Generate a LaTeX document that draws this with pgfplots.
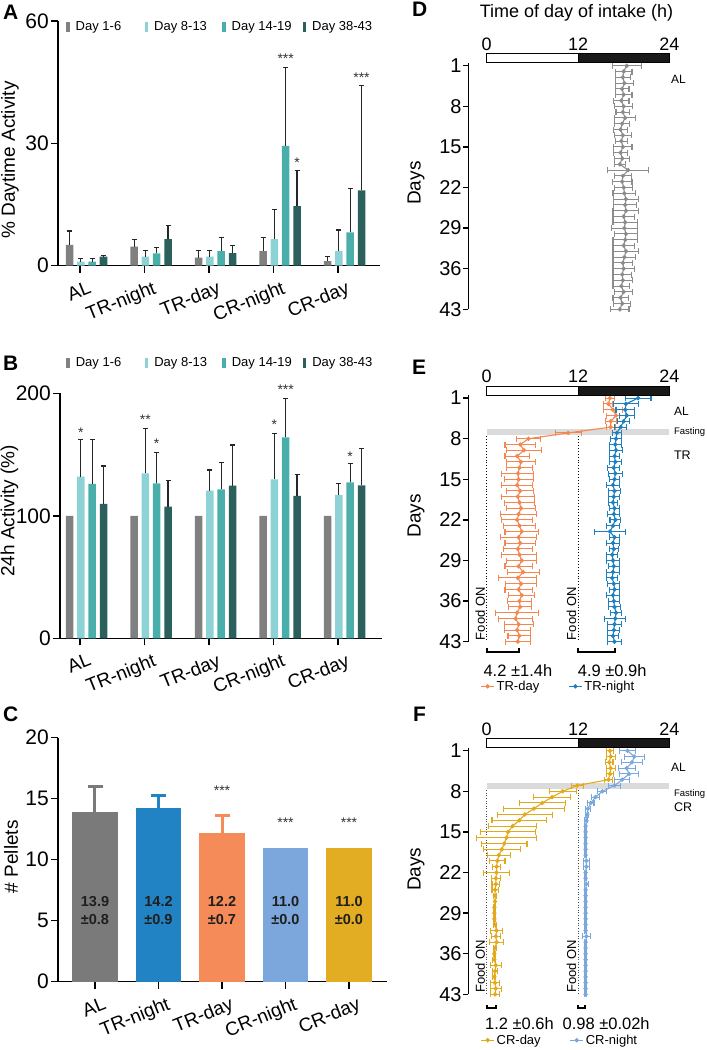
\documentclass[border=0pt]{standalone}
\usepackage{pgfplots}
\pgfplotsset{compat=1.18}
\usepackage{pgfplotstable}
\usepackage{fontspec}
\setmainfont{Liberation Sans}
\newcommand{\fsz}[1]{\fontsize{#1}{#1}\selectfont}

\definecolor{cGray}{HTML}{808080}
\definecolor{cLight}{HTML}{8DD3D6}
\definecolor{cTeal}{HTML}{4AAFAB}
\definecolor{cDark}{HTML}{2B605C}
\definecolor{cAL}{HTML}{7A7A7A}
\definecolor{cTRn}{HTML}{2183C4}
\definecolor{cTRd}{HTML}{F58B59}
\definecolor{cCRn}{HTML}{7BA7DC}
\definecolor{cCRd}{HTML}{E3AD23}
\definecolor{cDgray}{HTML}{8C8C8C}
\definecolor{cEor}{HTML}{F4874F}
\definecolor{cEbl}{HTML}{1F80C1}
\definecolor{cFgo}{HTML}{E3A91C}
\definecolor{cFbl}{HTML}{7AA8DC}

\pgfplotsset{
 barax/.style={anchor=south west, scale only axis, axis lines=left,
   axis line style={-, line width=1.5pt}, tick align=outside, major tick length=7pt,
   tick style={line width=1.5pt, black},
   xtick={80,144.5,209,273.5,338}, xticklabels={AL,TR-night,TR-day,CR-night,CR-day},
   xticklabel style={xshift=8pt, yshift=-6pt, rotate=22, anchor=north east, font=\fsz{19}, inner sep=1pt},
   yticklabel style={font=\fsz{21}, inner sep=2pt},
   /pgf/number format/assume math mode=true,
   ylabel style={font=\fsz{19}, anchor=center}, clip=false,
   legend columns=4,
   legend image code/.code={\fill[#1] (0pt,-5pt) rectangle (3.5pt,5pt);},
 },
 daylegend/.style={legend style={at={(axis description cs:#1)}, anchor=west, draw=none, fill=none,
    font=\fsz{13}, inner sep=0pt, /tikz/every odd column/.append style={column sep=4pt}}},
 mybar/.style={ybar, bar width=7.5, bar shift=0pt, draw=none, fill=#1, forget plot},
 ebar/.style={error bars/.cd, y dir=plus, y explicit,
   error bar style={line width=1.1pt, color=black!85},
   error mark options={rotate=90, line width=1.1pt, mark size=2.5pt, color=black!85}},
 dayax/.style={anchor=south west, scale only axis, width=201pt, height=246.5pt,
   xmin=-2.42, xmax=24, ymin=0.5, ymax=43, y dir=reverse,
   axis y line=left, axis x line=none, axis line style={-, line width=1.5pt},
   ytick={1,8,15,22,29,36,43}, tick align=outside, major tick length=5pt,
   tick style={line width=1.5pt, black},
   yticklabel style={font=\fsz{20}, inner sep=1.5pt},
   /pgf/number format/assume math mode=true,
   ylabel={Days}, ylabel style={font=\fsz{19}, anchor=center}, clip=false,
   legend columns=2,
   legend image code/.code={\draw[mark repeat=2,mark phase=2,#1] plot coordinates {(0pt,0pt) (6.5pt,0pt) (13pt,0pt)};},
 },
 ser/.style={color=#1, line width=1.1pt, mark=*, mark size=1.6pt, mark options={solid},
   error bars/.cd, x dir=both, x explicit,
   error bar style={line width=1.1pt},
   error mark options={rotate=90, line width=1.1pt, mark size=3pt}},
}
\tikzset{stx/.style={font=\fsz{14}, anchor=base, text=black!80, inner sep=0pt},
  inl/.style={align=center, font=\bfseries\fsz{14.5}, text=black!88, inner sep=0pt}}

\newcommand{\topbar}{%
 \draw[line width=1pt, fill=white] (axis cs:0,-1.05) rectangle (axis cs:12,0.5);
 \draw[line width=1pt, fill=black!90] (axis cs:12,-1.05) rectangle (axis cs:24,0.5);
 \node[anchor=base, font=\fsz{18}, inner sep=0pt] at (axis cs:0,-1.65) {0};
 \node[anchor=base, font=\fsz{18}, inner sep=0pt] at (axis cs:12,-1.65) {12};
 \node[anchor=base, font=\fsz{18}, inner sep=0pt] at (axis cs:24,-1.65) {24};
}

\pgfplotstableread{
d t e
1 18.4 1.9
2 18.0 1.1
3 17.9 1.0
4 18.1 1.2
5 17.8 0.9
6 18.0 1.1
7 17.7 1.0
8 18.0 1.2
9 17.9 0.9
10 18.2 1.4
11 17.8 1.0
12 17.6 0.9
13 17.9 1.1
14 17.7 0.8
15 17.9 1.2
16 17.6 0.9
17 17.8 1.0
18 17.5 0.7
19 18.6 2.7
20 17.9 1.1
21 17.8 1.3
22 18.0 1.2
23 18.1 1.5
24 18.3 1.6
25 18.2 1.5
26 18.3 1.7
27 18.0 1.4
28 18.2 1.6
29 18.1 1.7
30 18.3 1.5
31 18.2 1.6
32 18.0 1.4
33 18.3 1.7
34 18.1 1.5
35 17.9 1.3
36 18.0 1.4
37 17.8 1.2
38 17.9 1.3
39 17.7 1.1
40 18.0 1.2
41 17.6 1.0
42 17.8 1.1
43 17.5 1.2
}\dataD

\pgfplotstableread{
d t e
1 16.2 0.6
2 16.0 0.6
3 16.6 1.3
4 17.0 1.3
5 16.3 0.7
6 16.3 0.6
7 10.7 1.7
8 5.5 1.6
9 4.4 2.0
10 4.9 2.3
11 4.0 1.6
12 4.5 1.9
13 4.3 1.7
14 4.1 2.1
15 4.2 1.9
16 4.0 2.0
17 4.4 1.8
18 4.1 2.2
19 4.3 2.0
20 4.5 1.9
21 4.2 2.4
22 4.0 2.0
23 4.3 2.1
24 4.6 2.2
25 4.2 2.4
26 4.4 2.0
27 4.1 1.9
28 4.3 2.3
29 4.6 2.0
30 4.2 1.8
31 4.8 2.1
32 4.1 2.5
33 4.5 2.0
34 4.2 1.8
35 4.6 1.7
36 4.3 1.6
37 4.4 1.5
38 4.0 2.8
39 3.8 2.2
40 4.2 1.9
41 4.0 1.7
42 4.3 1.5
43 4.1 1.6
}\dataEo

\pgfplotstableread{
d t e
1 19.9 1.7
2 18.3 1.6
3 18.2 1.2
4 18.4 1.0
5 18.0 0.8
6 17.6 0.8
7 17.1 0.6
8 17.0 0.7
9 16.9 0.8
10 17.0 0.9
11 16.8 0.7
12 16.9 0.8
13 16.7 0.8
14 16.9 0.9
15 16.8 0.7
16 16.6 0.9
17 16.8 0.8
18 16.7 0.7
19 16.6 0.6
20 16.8 0.7
21 16.7 0.8
22 16.9 0.7
23 16.6 0.8
24 16.2 2.0
25 16.8 0.7
26 16.6 0.8
27 16.7 0.6
28 16.5 0.7
29 16.6 0.8
30 16.7 0.7
31 16.6 0.9
32 16.5 0.7
33 16.7 0.8
34 16.8 0.7
35 16.6 0.8
36 16.7 0.7
37 16.8 0.8
38 17.0 0.7
39 16.9 1.4
40 16.8 0.9
41 16.7 0.8
42 16.6 0.7
43 16.8 0.9
}\dataEb

\pgfplotstableread{
d t e
1 16.2 0.5
2 16.3 0.6
3 16.1 0.5
4 16.3 0.6
5 16.2 0.5
6 16.0 0.5
7 11.9 0.8
8 10.0 1.8
9 8.6 2.4
10 7.3 3.0
11 6.2 4.0
12 5.0 3.6
13 4.3 3.6
14 3.4 3.2
15 2.8 3.6
16 2.6 4.0
17 2.3 3.0
18 2.0 2.4
19 1.6 1.5
20 1.4 1.0
21 1.3 0.5
22 1.3 1.7
23 1.2 0.6
24 1.2 0.5
25 1.1 0.4
26 1.1 0.2
27 1.1 0.1
28 1.0 0.1
29 1.0 0.1
30 1.0 0.1
31 1.1 0.2
32 1.3 0.8
33 1.2 0.6
34 1.3 0.9
35 1.1 0.2
36 1.0 0.1
37 1.0 0.2
38 1.2 0.7
39 1.1 0.3
40 1.0 0.2
41 1.1 0.6
42 1.2 0.7
43 1.1 0.6
}\dataFg

\pgfplotstableread{
d t e
1 18.5 1.0
2 19.4 1.3
3 19.1 1.4
4 18.4 1.1
5 18.7 1.2
6 17.8 1.0
7 16.8 0.8
8 15.2 0.6
9 14.3 0.5
10 13.7 0.4
11 13.3 0.3
12 13.2 0.2
13 13.1 0.2
14 13.0 0.1
15 13.0 0.1
16 13.0 0.1
17 13.0 0.1
18 13.0 0.1
19 13.0 0.1
20 13.1 0.4
21 13.1 0.4
22 13.0 0.1
23 13.0 0.1
24 13.1 0.3
25 13.0 0.1
26 13.0 0.1
27 13.0 0.1
28 13.0 0.1
29 13.0 0.1
30 13.0 0.1
31 13.0 0.1
32 13.0 0.1
33 13.1 0.5
34 13.0 0.1
35 13.0 0.1
36 13.0 0.1
37 13.0 0.1
38 13.0 0.1
39 13.0 0.1
40 13.0 0.1
41 13.0 0.1
42 13.0 0.1
43 13.0 0.1
}\dataFb

\begin{document}
\begin{tikzpicture}
\useasboundingbox (0pt,0pt) rectangle (707pt,-1050pt);

% ---------- A ----------
\begin{axis}[barax, at={(58pt,-265.7pt)}, width=322pt, height=244.7pt,
  xmin=58, xmax=380, ymin=0, ymax=60, ytick={0,30,60},
  ylabel={\% Daytime Activity}, ylabel style={at={(axis description cs:-0.149,0.432)}},
  daylegend={0.025,0.976}]
\addplot[mybar=cGray, ebar] coordinates {(69.7,5.1) +- (0,3.4) (134.2,4.7) +- (0,1.8) (198.7,2.0) +- (0,1.7) (263.2,3.6) +- (0,3.4) (327.7,1.15) +- (0,1.15)};
\addplot[mybar=cLight, ebar] coordinates {(80.9,1.0) +- (0,0.8) (145.4,2.2) +- (0,1.5) (209.9,2.2) +- (0,1.5) (274.4,6.5) +- (0,7.3) (338.9,3.6) +- (0,5.15)};
\addplot[mybar=cTeal, ebar] coordinates {(92.2,1.0) +- (0,0.7) (156.7,3.0) +- (0,1.4) (221.2,3.6) +- (0,3.4) (285.7,29.4) +- (0,19.2) (350.2,8.2) +- (0,10.7)};
\addplot[mybar=cDark, ebar] coordinates {(103.5,2.2) +- (0,0.4) (168,6.5) +- (0,3.3) (232.5,3.1) +- (0,1.8) (297,14.6) +- (0,8.8) (361.5,18.5) +- (0,25.6)};
\addlegendimage{fill=cGray, draw=none}\addlegendentry{\makebox[67pt][l]{Day 1-6}}
\addlegendimage{fill=cLight, draw=none}\addlegendentry{\makebox[66pt][l]{Day 8-13}}
\addlegendimage{fill=cTeal, draw=none}\addlegendentry{\makebox[69pt][l]{Day 14-19}}
\addlegendimage{fill=cDark, draw=none}\addlegendentry{Day 38-43}
\node[stx] at (axis cs:285.7,49.7) {***};
\node[stx] at (axis cs:297,24.0) {*};
\node[stx] at (axis cs:361.5,45.0) {***};
\end{axis}

% ---------- B ----------
\begin{axis}[barax, at={(60pt,-638.3pt)}, width=322pt, height=245pt,
  xmin=60, xmax=382, ymin=0, ymax=200, ytick={0,100,200},
  ylabel={24h Activity (\%)}, ylabel style={at={(axis description cs:-0.157,0.52)}},
  daylegend={0.019,1.124}]
\addplot[mybar=cGray] coordinates {(69.7,100) (134.2,100) (198.7,100) (263.2,100) (327.7,100)};
\addplot[mybar=cLight, ebar] coordinates {(80.9,132) +- (0,30) (145.4,134.7) +- (0,36.7) (209.9,120.5) +- (0,16.9) (274.4,129.8) +- (0,37.2) (338.9,117) +- (0,9.5)};
\addplot[mybar=cTeal, ebar] coordinates {(92.2,126) +- (0,36) (156.7,126.5) +- (0,25.1) (221.2,121.6) +- (0,21.8) (285.7,164) +- (0,32) (350.2,127.3) +- (0,15.6)};
\addplot[mybar=cDark, ebar] coordinates {(103.5,109.7) +- (0,31) (168,107.5) +- (0,21.2) (232.5,124.6) +- (0,33.2) (297,116.2) +- (0,17.4) (361.5,124.9) +- (0,30.2)};
\addlegendimage{fill=cGray, draw=none}\addlegendentry{\makebox[67pt][l]{Day 1-6}}
\addlegendimage{fill=cLight, draw=none}\addlegendentry{\makebox[66pt][l]{Day 8-13}}
\addlegendimage{fill=cTeal, draw=none}\addlegendentry{\makebox[69pt][l]{Day 14-19}}
\addlegendimage{fill=cDark, draw=none}\addlegendentry{Day 38-43}
\node[stx] at (axis cs:80.9,164.1) {*};
\node[stx] at (axis cs:145.4,174.4) {**};
\node[stx] at (axis cs:156.7,155.3) {*};
\node[stx] at (axis cs:274.4,170.3) {*};
\node[stx] at (axis cs:285.7,198.9) {***};
\node[stx] at (axis cs:350.2,144.5) {*};
\end{axis}

% ---------- C ----------
\begin{axis}[barax, at={(58pt,-981.7pt)}, width=328.7pt, height=244pt,
  xmin=58, xmax=386.7, ymin=0, ymax=20, ytick={0,5,10,15,20},
  xtick={95,158.5,222,285.5,349},
  ylabel={\# Pellets}, ylabel style={at={(axis description cs:-0.143,0.512)}}]
\addplot[ybar, bar width=45.5, bar shift=0pt, draw=none, fill=cAL,
  error bars/.cd, y dir=plus, y explicit, error bar style={line width=3pt, color=cAL},
  error mark options={rotate=90, line width=3pt, mark size=7.5pt, color=cAL}] coordinates {(95,13.9) +- (0,2.1)};
\addplot[ybar, bar width=45.5, bar shift=0pt, draw=none, fill=cTRn,
  error bars/.cd, y dir=plus, y explicit, error bar style={line width=3pt, color=cTRn},
  error mark options={rotate=90, line width=3pt, mark size=7.5pt, color=cTRn}] coordinates {(158.5,14.2) +- (0,1.05)};
\addplot[ybar, bar width=45.5, bar shift=0pt, draw=none, fill=cTRd,
  error bars/.cd, y dir=plus, y explicit, error bar style={line width=3pt, color=cTRd},
  error mark options={rotate=90, line width=3pt, mark size=7.5pt, color=cTRd}] coordinates {(222,12.2) +- (0,1.46)};
\addplot[ybar, bar width=45.5, bar shift=0pt, draw=none, fill=cCRn] coordinates {(285.5,11.0)};
\addplot[ybar, bar width=45.5, bar shift=0pt, draw=none, fill=cCRd] coordinates {(349,11.0)};
\node[inl] at (axis cs:95,5.85) {13.9\\[4pt]±0.8};
\node[inl] at (axis cs:158.5,5.85) {14.2\\[4pt]±0.9};
\node[inl] at (axis cs:222,5.85) {12.2\\[4pt]±0.7};
\node[inl] at (axis cs:285.5,5.85) {11.0\\[4pt]±0.0};
\node[inl] at (axis cs:349,5.85) {11.0\\[4pt]±0.0};
\node[stx] at (axis cs:222,15.3) {***};
\node[stx] at (axis cs:285.5,12.6) {***};
\node[stx] at (axis cs:349,12.6) {***};
\end{axis}

% ---------- D ----------
\begin{axis}[dayax, at={(468.3pt,-309.3pt)}, ylabel style={at={(axis description cs:-0.26,0.512)}}]
\addplot[ser=cDgray] table[x=t, y=d, x error=e] {\dataD};
\topbar
\node[anchor=base, font=\fsz{18}] at (axis cs:11.8,-7.3) {Time of day of intake (h)};
\node[anchor=west, font=\fsz{12}, inner sep=0pt] at (axis cs:24.2,3.3) {AL};
\end{axis}

% ---------- E ----------
\begin{axis}[dayax, at={(468.3pt,-641.7pt)}, ylabel style={at={(axis description cs:-0.26,0.511)}},
  legend style={at={(axis description cs:0.06,-0.181)}, anchor=west, draw=none, fill=none,
    font=\fsz{13}, inner sep=0pt, /tikz/every even column/.append style={column sep=27pt}}]
\fill[black!14] (axis cs:0,6.4) rectangle (axis cs:23.9,7.4);
\draw[dotted, line width=0.9pt] (axis cs:0,7.6) -- (axis cs:0,43);
\draw[dotted, line width=0.9pt] (axis cs:12,7.6) -- (axis cs:12,43);
\addplot[ser=cEor] table[x=t, y=d, x error=e] {\dataEo};
\addlegendentry{TR-day}
\addplot[ser=cEbl] table[x=t, y=d, x error=e] {\dataEb};
\addlegendentry{TR-night}
\topbar
\node[anchor=west, font=\fsz{12}, inner sep=0pt] at (axis cs:24.6,3.3) {AL};
\node[anchor=west, font=\fsz{9.5}, inner sep=0pt] at (axis cs:24.6,6.9) {Fasting};
\node[anchor=west, font=\fsz{12.5}, inner sep=0pt] at (axis cs:24.6,10.8) {TR};
\node[rotate=90, anchor=south west, font=\fsz{13}, inner sep=1.5pt] at (axis cs:0,43) {Food ON};
\node[rotate=90, anchor=south west, font=\fsz{13}, inner sep=1.5pt] at (axis cs:12,43) {Food ON};
\draw[line width=2pt] (axis cs:0,44.1) -- (axis cs:0,44.7) -- (axis cs:4.2,44.7) -- (axis cs:4.2,44.1);
\draw[line width=2pt] (axis cs:12,44.1) -- (axis cs:12,44.7) -- (axis cs:16.9,44.7) -- (axis cs:16.9,44.1);
\node[font=\fsz{16.5}] at (axis cs:4.1,47.9) {4.2 ±1.4h};
\node[font=\fsz{16.5}] at (axis cs:16.5,47.9) {4.9 ±0.9h};
\end{axis}

% ---------- F ----------
\begin{axis}[dayax, at={(468.3pt,-994.3pt)}, ylabel style={at={(axis description cs:-0.26,0.507)}},
  legend style={at={(axis description cs:0.06,-0.186)}, anchor=west, draw=none, fill=none,
    font=\fsz{13}, inner sep=0pt, /tikz/every even column/.append style={column sep=27pt}}]
\fill[black!14] (axis cs:0,6.6) rectangle (axis cs:23.9,7.6);
\draw[dotted, line width=0.6pt, black!70] (axis cs:0,7.8) -- (axis cs:0,43);
\draw[dotted, line width=0.6pt, black!70] (axis cs:12,7.8) -- (axis cs:12,43);
\addplot[ser=cFgo] table[x=t, y=d, x error=e] {\dataFg};
\addlegendentry{CR-day}
\addplot[ser=cFbl] table[x=t, y=d, x error=e] {\dataFb};
\addlegendentry{CR-night}
\topbar
\node[anchor=west, font=\fsz{12}, inner sep=0pt] at (axis cs:24.2,3.8) {AL};
\node[anchor=west, font=\fsz{9.5}, inner sep=0pt] at (axis cs:24.6,8.4) {Fasting};
\node[anchor=west, font=\fsz{12.5}, inner sep=0pt] at (axis cs:24.6,10.7) {CR};
\node[rotate=90, anchor=south west, font=\fsz{13}, inner sep=1.5pt] at (axis cs:0,43) {Food ON};
\node[rotate=90, anchor=south west, font=\fsz{13}, inner sep=1.5pt] at (axis cs:12,43) {Food ON};
\draw[line width=2pt] (axis cs:0,44.9) -- (axis cs:0,45.4) -- (axis cs:1.2,45.4) -- (axis cs:1.2,44.9);
\draw[line width=2pt] (axis cs:12,44.9) -- (axis cs:12,45.4) -- (axis cs:12.98,45.4) -- (axis cs:12.98,44.9);
\node[font=\fsz{16.5}] at (axis cs:4.3,48.0) {1.2 ±0.6h};
\node[font=\fsz{16.5}] at (axis cs:15.7,48.0) {0.98 ±0.02h};
\end{axis}

% panel letters
\node[anchor=north west, inner sep=0pt, font=\bfseries\fsz{21}] at (3pt,-5pt) {A};
\node[anchor=north west, inner sep=0pt, font=\bfseries\fsz{21}] at (3pt,-356pt) {B};
\node[anchor=north west, inner sep=0pt, font=\bfseries\fsz{21}] at (3pt,-707pt) {C};
\node[anchor=north west, inner sep=0pt, font=\bfseries\fsz{21}] at (412pt,-2pt) {D};
\node[anchor=north west, inner sep=0pt, font=\bfseries\fsz{21}] at (412pt,-360pt) {E};
\node[anchor=north west, inner sep=0pt, font=\bfseries\fsz{21}] at (413pt,-707pt) {F};
\end{tikzpicture}
\end{document}
